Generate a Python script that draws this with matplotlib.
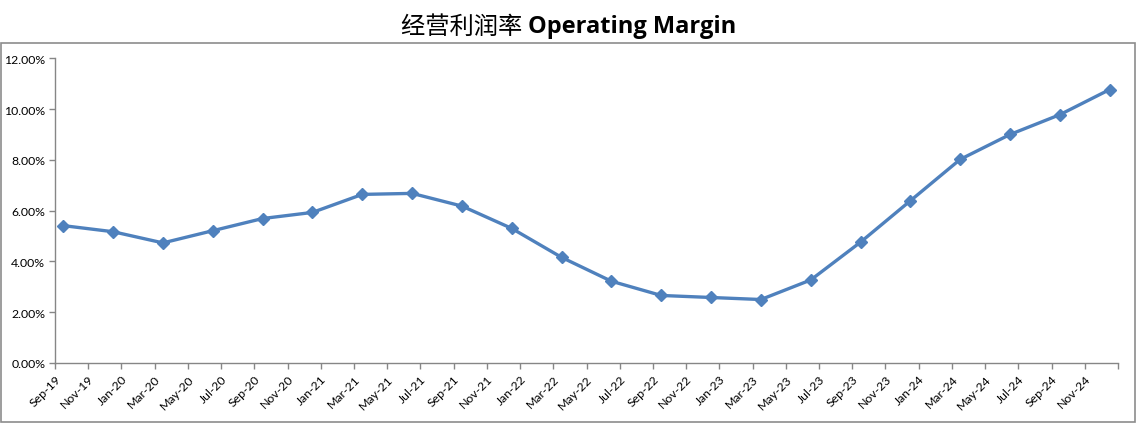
import matplotlib
matplotlib.use("Agg")
import matplotlib.pyplot as plt
import numpy as np
import pandas as pd
from matplotlib.patches import Rectangle
from matplotlib.ticker import FuncFormatter

# quarter end months of each data point
quarters = ["Sep-19", "Dec-19", "Mar-20", "Jun-20", "Sep-20", "Dec-20",
            "Mar-21", "Jun-21", "Sep-21", "Dec-21", "Mar-22", "Jun-22",
            "Sep-22", "Dec-22", "Mar-23", "Jun-23", "Sep-23", "Dec-23",
            "Mar-24", "Jun-24", "Sep-24", "Dec-24"]
margin = [5.41, 5.17, 4.73, 5.21, 5.69, 5.93,
          6.64, 6.68, 6.18, 5.30, 4.16, 3.22,
          2.66, 2.58, 2.50, 3.27, 4.76, 6.39,
          8.02, 9.00, 9.78, 10.77]

start = pd.Timestamp("2019-09-01")
dates = pd.to_datetime(quarters, format="%b-%y")
# months since Sep-19, point sits in middle of its month slot
xpos = np.array([(d.year - start.year) * 12 + d.month - start.month for d in dates]) + 0.5

n_months = 64
tick_pos = np.arange(0, n_months + 1, 2)
tick_lab = [(start + pd.DateOffset(months=int(m))).strftime("%b-%y") for m in tick_pos]
tick_lab[-1] = ""

W, H = 1137, 427
fig = plt.figure(figsize=(W / 100, H / 100), dpi=100)
fig.patch.set_facecolor("white")

# outer chart frame
fig.patches.append(Rectangle((1 / W, 1 - 423 / H), 1134 / W, 379 / H,
                             transform=fig.transFigure, fill=False,
                             edgecolor="#8c8c8c", linewidth=1.2))

# title: chinese part regular, english part bold
cjk = ["Noto Sans CJK SC", "DejaVu Sans"]
t1 = fig.text(0.5, 1 - 27 / H, "经营利润率 ", ha="right", va="center",
              fontsize=17.5, family=cjk)
t2 = fig.text(0.5, 1 - 27 / H, "Operating Margin", ha="left", va="center",
              fontsize=17, fontweight="bold", family=["Open Sans", "DejaVu Sans"])
fig.canvas.draw()
r = fig.canvas.get_renderer()
w1 = t1.get_window_extent(r).width
w2 = t2.get_window_extent(r).width
shift = (w1 - w2) / 2 / W
t1.set_x(0.5 + shift)
t2.set_x(0.5 + shift)

ax = fig.add_axes([55 / W, 1 - 364 / H, (1118 - 55) / W, (364 - 59.3) / H])
ax.plot(xpos, margin, color="#4F81BD", linewidth=2.4, marker="D",
        markersize=6, markerfacecolor="#4F81BD", markeredgecolor="#4F81BD")

ax.set_xlim(0, n_months)
ax.set_ylim(0, 12)
ax.set_yticks(np.arange(0, 13, 2))
ax.yaxis.set_major_formatter(FuncFormatter(lambda v, p: "%.2f%%" % v))
ax.set_xticks(tick_pos)
ax.set_xticklabels(tick_lab, rotation=45, ha="right", rotation_mode="anchor")

for s in ["top", "right"]:
    ax.spines[s].set_visible(False)
for s in ["left", "bottom"]:
    ax.spines[s].set_color("#868686")
    ax.spines[s].set_linewidth(1.0)
ax.tick_params(axis="both", colors="#868686", length=4, width=1.0,
               labelcolor="black", labelsize=8.8)
ax.tick_params(axis="x", pad=3)
ax.tick_params(axis="y", pad=3)
for lab in ax.get_xticklabels() + ax.get_yticklabels():
    lab.set_family("Lato")

fig.savefig("out.png", dpi=100)
